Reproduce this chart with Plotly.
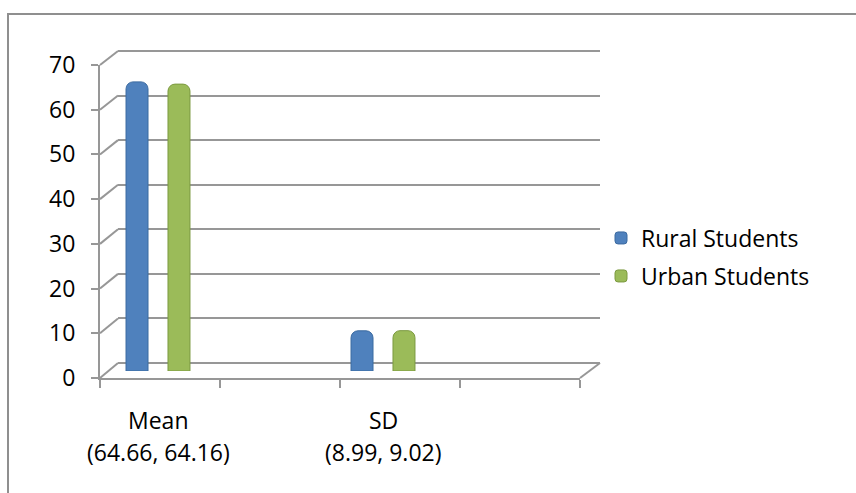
import plotly.graph_objects as go

# Data
categories = ["Mean", "SD"]
rural_students = [64.66, 8.99]
urban_students = [64.16, 9.02]
y_ticks = [0, 10, 20, 30, 40, 50, 60, 70]

W, H = 856, 493
FONT = "Open Sans"
FS = 23
AXIS_GRAY = "#979797"
BLUE, GREEN = "#4F81BD", "#9BBB59"
Y_MAX = 70


def px_x(p):
    return p / W


def px_y(p):
    return 1 - p / H


# pixel frames of the three layers: back wall grid, bars, front axes
BACK = dict(x0=118, x1=600, top=51, bottom=363)
BARS = dict(x0=100, x1=580, top=58, bottom=371)
FRONT = dict(x0=100, x1=580, top=65, bottom=378)

# back wall axis gets one unit of slack on each end so the outer gridlines stay inside
PAD = 1.0
back_ppu = (BACK["bottom"] - BACK["top"]) / Y_MAX
back_dom = [px_y(BACK["bottom"] + PAD * back_ppu), px_y(BACK["top"] - PAD * back_ppu)]

fig = go.Figure()

# back wall: horizontal gridlines only (invisible helper trace)
fig.add_trace(go.Scatter(x=[0], y=[0], xaxis="x", yaxis="y", mode="markers",
                         marker=dict(opacity=0), showlegend=False, hoverinfo="skip"))

# bars (cylinder-like columns)
xpos = list(range(len(categories)))
fig.add_trace(go.Bar(x=xpos, y=rural_students, name="Rural Students",
                     xaxis="x2", yaxis="y2", legend="legend",
                     marker=dict(color=BLUE, line=dict(color="#3B6aa0", width=1))))
fig.add_trace(go.Bar(x=xpos, y=urban_students, name="Urban Students",
                     xaxis="x2", yaxis="y2", legend="legend2",
                     marker=dict(color=GREEN, line=dict(color="#7c9a40", width=1))))

# front axes frame (invisible helper trace)
fig.add_trace(go.Scatter(x=[0], y=[0], xaxis="x3", yaxis="y3", mode="markers",
                         marker=dict(opacity=0), showlegend=False, hoverinfo="skip"))

# category axis for bars: 225 px per category, first centre at 158 px
unit = 225.0
c0 = 158.0
xr = [(BARS["x0"] - c0) / unit, (BARS["x1"] - c0) / unit]

fig.update_layout(
    template="none",
    width=W, height=H,
    margin=dict(l=0, r=0, t=0, b=0, pad=0, autoexpand=False),
    paper_bgcolor="white", plot_bgcolor="rgba(0,0,0,0)",
    font=dict(family=FONT, size=FS, color="black"),
    barmode="group", bargap=0.627, bargroupgap=0.476, barcornerradius=7,
    xaxis=dict(domain=[px_x(BACK["x0"]), px_x(BACK["x1"])], anchor="y",
               visible=False, range=[0, 1], automargin=False),
    yaxis=dict(domain=back_dom, anchor="x",
               range=[-PAD, Y_MAX + PAD], tickvals=y_ticks, showticklabels=False,
               showgrid=True, gridcolor=AXIS_GRAY, gridwidth=2,
               zeroline=False, showline=False, ticks="", automargin=False),
    xaxis2=dict(domain=[px_x(BARS["x0"]), px_x(BARS["x1"])], anchor="y2",
                visible=False, range=xr, automargin=False),
    yaxis2=dict(domain=[px_y(BARS["bottom"]), px_y(BARS["top"])], anchor="x2",
                visible=False, range=[0, Y_MAX], automargin=False),
    xaxis3=dict(domain=[px_x(FRONT["x0"]), px_x(FRONT["x1"])], anchor="y3",
                range=[0, 4], tickvals=[0, 1, 2, 3, 4], showticklabels=False,
                ticks="outside", ticklen=8, tickwidth=2, tickcolor=AXIS_GRAY,
                showline=True, linecolor=AXIS_GRAY, linewidth=2,
                showgrid=False, zeroline=False, automargin=False),
    yaxis3=dict(domain=[px_y(FRONT["bottom"]), px_y(FRONT["top"])], anchor="x3",
                range=[0, Y_MAX], tickvals=y_ticks,
                ticks="outside", ticklen=7, tickwidth=2, tickcolor=AXIS_GRAY,
                showline=True, linecolor=AXIS_GRAY, linewidth=2,
                showgrid=False, zeroline=False, automargin=False,
                tickfont=dict(family=FONT, size=FS, color="black"),
                ticklabelstandoff=11),
    legend=dict(x=px_x(601), y=px_y(238), xanchor="left", yanchor="middle",
                font=dict(family=FONT, size=FS, color="black"),
                bgcolor="rgba(0,0,0,0)", itemwidth=30),
    legend2=dict(x=px_x(601), y=px_y(276), xanchor="left", yanchor="middle",
                 font=dict(family=FONT, size=FS, color="black"),
                 bgcolor="rgba(0,0,0,0)", itemwidth=30),
)

shapes = []


def front_y(v):
    return FRONT["bottom"] - (FRONT["bottom"] - FRONT["top"]) * v / Y_MAX


def back_y(v):
    return BACK["bottom"] - (BACK["bottom"] - BACK["top"]) * v / Y_MAX


# depth edges joining the front value axis to the back wall gridlines
for v in y_ticks:
    shapes.append(dict(type="line", xref="paper", yref="paper",
                       x0=px_x(FRONT["x0"]), y0=px_y(front_y(v)),
                       x1=px_x(BACK["x0"]), y1=px_y(back_y(v)),
                       line=dict(color=AXIS_GRAY, width=2), layer="below"))
# right edge of the floor
shapes.append(dict(type="line", xref="paper", yref="paper",
                   x0=px_x(FRONT["x1"]), y0=px_y(front_y(0)),
                   x1=px_x(BACK["x1"]), y1=px_y(back_y(0)),
                   line=dict(color=AXIS_GRAY, width=2), layer="below"))
# chart frame
shapes.append(dict(type="rect", xref="paper", yref="paper",
                   x0=px_x(8), y0=px_y(14), x1=1.05, y1=-0.05,
                   line=dict(color="#8f8f8f", width=2), layer="below"))
fig.update_layout(shapes=shapes)

# category labels with their values
annotations = []
for i, cat in enumerate(categories):
    annotations.append(dict(x=i, xref="x2", y=px_y(420), yref="paper",
                            text=cat, showarrow=False, xanchor="center",
                            yanchor="middle", font=dict(size=FS, color="black")))
    annotations.append(dict(x=i, xref="x2", y=px_y(452), yref="paper",
                            text=f"({rural_students[i]:.2f}, {urban_students[i]:.2f})",
                            showarrow=False, xanchor="center", yanchor="middle",
                            font=dict(size=FS, color="black")))
fig.update_layout(annotations=annotations)

fig.write_html("out.html")
